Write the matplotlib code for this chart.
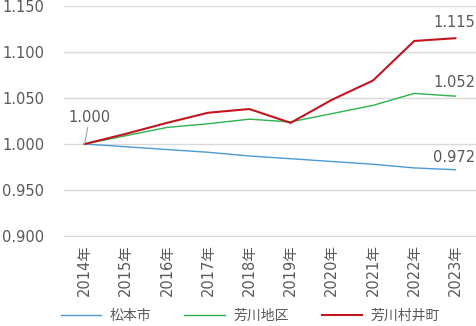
import matplotlib
matplotlib.use("Agg")
import matplotlib.pyplot as plt
from matplotlib.lines import Line2D

plt.rcParams['font.family'] = ['DejaVu Sans', 'Noto Sans CJK JP']

years = ["2014年", "2015年", "2016年", "2017年", "2018年",
         "2019年", "2020年", "2021年", "2022年", "2023年"]
matsumoto = [1.000, 0.997, 0.994, 0.991, 0.987, 0.984, 0.981, 0.978, 0.974, 0.972]
yoshikawa = [1.000, 1.009, 1.018, 1.022, 1.027, 1.024, 1.033, 1.042, 1.055, 1.052]
murai = [1.000, 1.011, 1.023, 1.034, 1.038, 1.023, 1.048, 1.069, 1.112, 1.115]
series_names = ["松本市", "芳川地区", "芳川村井町"]
yticks = [0.900, 0.950, 1.000, 1.050, 1.100, 1.150]

text_color = "#595959"
colors = ["#4a9ad6", "#2cb24f", "#c2161f"]
widths = [1.0, 1.0, 1.5]
fs = 10.5

fig = plt.figure(figsize=(4.77, 3.26), dpi=100)
ax = fig.add_axes([64 / 477, 1 - 236 / 326, 412 / 477, 230 / 326])

x = list(range(len(years)))
for vals, c, w in zip([matsumoto, yoshikawa, murai], colors, widths):
    ax.plot(x, vals, color=c, lw=w, solid_joinstyle="miter")

ax.set_xlim(-0.5, len(years) - 0.5)
ax.set_ylim(0.900, 1.150)
ax.set_yticks(yticks)
ax.set_yticklabels([f"{v:.3f}" for v in yticks])
ax.set_xticks(x)
ax.set_xticklabels(years, rotation=90)
ax.yaxis.grid(True, color="#d9d9d9", lw=1)
ax.set_axisbelow(True)
for s in ax.spines.values():
    s.set_visible(False)
ax.spines["bottom"].set_visible(True)
ax.spines["bottom"].set_color("#d9d9d9")
ax.tick_params(axis="both", length=0, colors=text_color, labelsize=fs)
ax.tick_params(axis="x", pad=6)
for lbl in ax.get_yticklabels():
    lbl.set_horizontalalignment("left")
    lbl.set_x(-62 / 412)
    lbl.set_transform(ax.get_yaxis_transform())

# value labels
ax.annotate(f"{matsumoto[0]:.3f}", xy=(0, 1.000), xytext=(0.12, 1.021),
            ha="center", va="bottom", color=text_color, fontsize=fs,
            arrowprops=dict(arrowstyle="-", color="#a0a0a0", lw=0.8,
                            shrinkA=0, shrinkB=0))
ax.text(9.48, murai[-1] + 0.009, f"{murai[-1]:.3f}", ha="right", va="bottom",
        color=text_color, fontsize=fs)
ax.text(9.48, yoshikawa[-1] + 0.0065, f"{yoshikawa[-1]:.3f}", ha="right", va="bottom",
        color=text_color, fontsize=fs)
ax.text(9.48, matsumoto[-1] + 0.005, f"{matsumoto[-1]:.3f}", ha="right", va="bottom",
        color=text_color, fontsize=fs)

handles = [Line2D([], [], color=c, lw=w) for c, w in zip(colors, widths)]
fig.legend(handles, series_names, loc="lower center", ncol=3, frameon=False,
           bbox_to_anchor=(0.525, -0.03), fontsize=10, labelcolor=text_color,
           handlelength=2.9, columnspacing=2.4, handletextpad=0.6)

fig.savefig("out.png", dpi=100)
